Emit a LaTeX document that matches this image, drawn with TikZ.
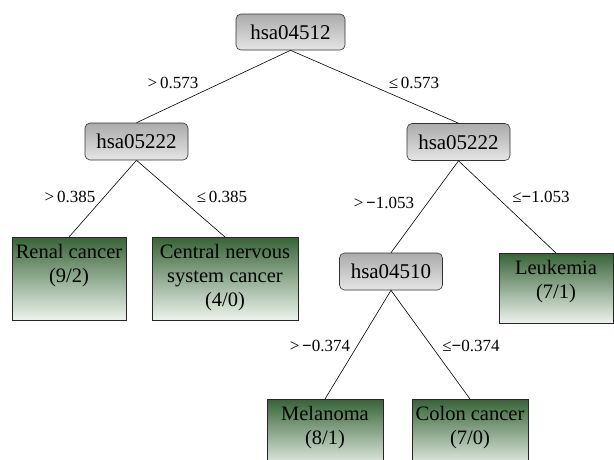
\documentclass[tikz,border=0pt]{standalone}
\usepackage{fontspec}
\setmainfont{Liberation Serif}
\newfontfamily\tnr{Liberation Serif}
\newcommand\leafbox[3]{\parbox[c][#2][t]{#1}{\centering\vspace*{6.5pt}#3}}
\definecolor{leaftop}{RGB}{55,100,55}
\definecolor{leafmid}{RGB}{200,220,200}
\definecolor{leafbot}{RGB}{238,244,238}
\tikzset{
  inner/.style={draw=black!80, line width=0.6pt, rounded corners=5pt,
    top color=black!33, middle color=black!5, bottom color=black!10,
    minimum width=103pt, minimum height=37pt, inner sep=0pt,
    font=\tnr\fontsize{21}{24}\selectfont},
  leaf/.style={draw=black!85, line width=0.6pt, anchor=north, inner sep=0pt,
    top color=leaftop, middle color=leafmid, bottom color=leafbot,
    font=\tnr\fontsize{20.5}{24}\selectfont},
  lbl/.style={font=\tnr\fontsize{17}{20}\selectfont, inner sep=0pt},
  edge/.style={draw=black, line width=0.6pt}
}
\begin{document}
\begin{tikzpicture}[x=1pt,y=-1pt]
\useasboundingbox (0,0) rectangle (614,459);
\clip (0,0) rectangle (614,459);
\node[inner, minimum width=109pt, minimum height=36pt] (root) at (290.5,32) {hsa04512};
\node[inner] (l1) at (136.5,141.5) {hsa05222};
\node[inner] (r1) at (458.5,142) {hsa05222};
\node[inner] (r2) at (391,271.5) {hsa04510};
\node[leaf] (renal) at (69,237) {\leafbox{114pt}{83pt}{Renal cancer\\(9/2)}};
\node[leaf] (cns) at (225,237) {\leafbox{146pt}{83pt}{Central nervous\\system cancer\\(4/0)}};
\node[leaf] (leuk) at (556,253) {\leafbox{114pt}{70pt}{Leukemia\\(7/1)}};
\node[leaf] (mel) at (325,399) {\leafbox{116pt}{70pt}{Melanoma\\(8/1)}};
\node[leaf] (colon) at (470,399) {\leafbox{116pt}{70pt}{Colon cancer\\(7/0)}};
\draw[edge] (root.south) -- (l1.north);
\draw[edge] (root.south) -- (r1.north);
\draw[edge] (l1.south) -- (renal.north);
\draw[edge] (l1.south) -- (cns.north);
\draw[edge] (r1.south) -- (r2.north);
\draw[edge] (r1.south) -- (leuk.north);
\draw[edge] (r2.south) -- (mel.north);
\draw[edge] (r2.south) -- (colon.north);
\node[lbl] (a1) at (173,83) {>\,0.573};
\node[lbl] (a2) at (414,83) {≤\,0.573};
\node[lbl] (a3) at (70,197) {>\,0.385};
\node[lbl] (a4) at (222,197) {≤\,0.385};
\node[lbl] (a5) at (384,203) {>\,{\bfseries −}1.053};
\node[lbl] (a6) at (541,197) {≤{\bfseries −}1.053};
\node[lbl] (a7) at (320,346) {>\,{\bfseries −}0.374};
\node[lbl] (a8) at (471,346) {≤{\bfseries −}0.374};
\end{tikzpicture}
\end{document}
